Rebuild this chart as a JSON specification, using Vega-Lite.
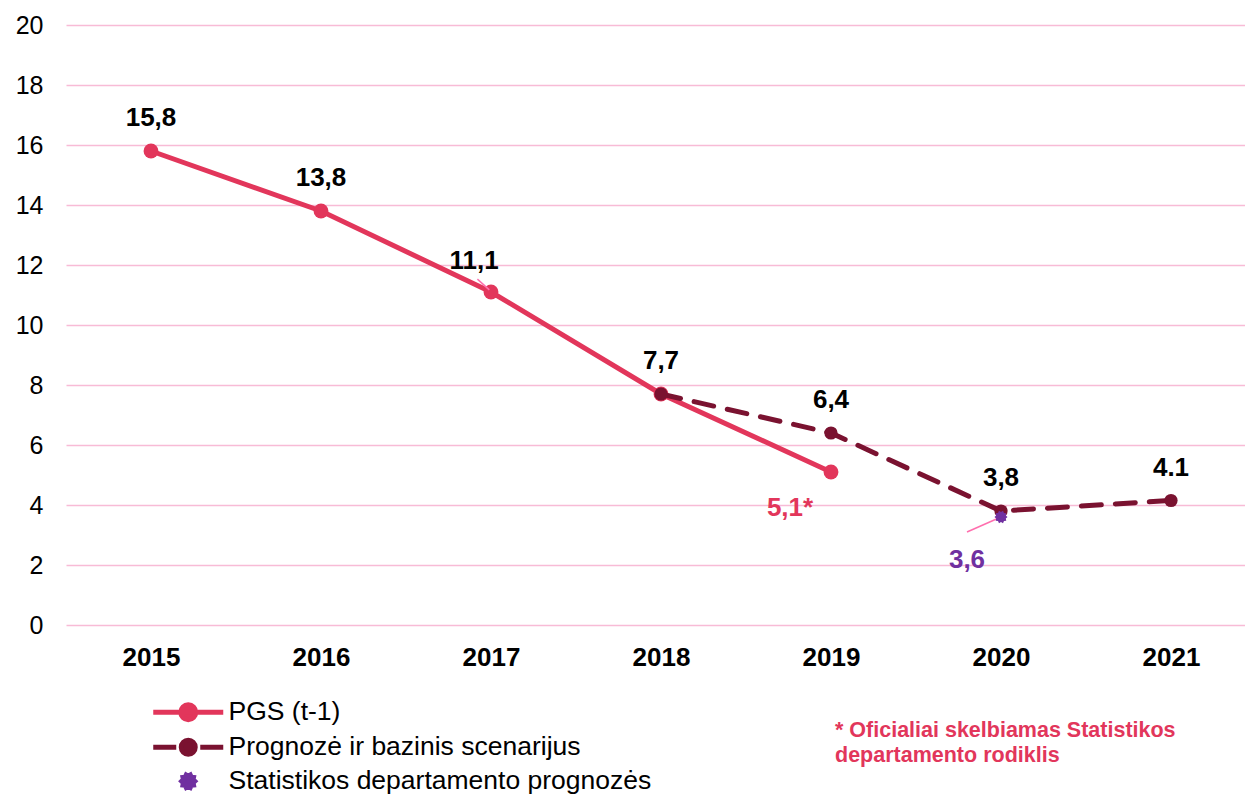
{
  "$schema": "https://vega.github.io/schema/vega-lite/v6.json",
  "autosize": "none",
  "width": 1190,
  "height": 600,
  "padding": {"left": 66, "top": 25, "right": 0, "bottom": 171},
  "background": "white",
  "config": {
    "font": "Liberation Sans",
    "view": {"stroke": null},
    "legend": {"padding": 0}
  },
  "title": {
    "text": ["* Oficialiai skelbiamas Statistikos", "departamento rodiklis"],
    "orient": "bottom",
    "anchor": "start",
    "frame": "group",
    "dx": 769,
    "offset": 0,
    "dy": -78,
    "font": "Liberation Sans",
    "fontSize": 21.5,
    "fontWeight": "bold",
    "color": "#E2365B",
    "lineHeight": 25
  },
  "datasets": {
    "rows": [
      {"series": "PGS (t-1)", "year": 2015, "value": 15.8, "label": "15,8"},
      {"series": "PGS (t-1)", "year": 2016, "value": 13.8, "label": "13,8"},
      {"series": "PGS (t-1)", "year": 2017, "value": 11.1, "label": "11,1"},
      {"series": "PGS (t-1)", "year": 2018, "value": 7.7, "label": "7,7"},
      {"series": "PGS (t-1)", "year": 2019, "value": 5.1, "label": "5,1*"},
      {"series": "Prognozė ir bazinis scenarijus", "year": 2018, "value": 7.7, "label": "7,7"},
      {"series": "Prognozė ir bazinis scenarijus", "year": 2019, "value": 6.4, "label": "6,4"},
      {"series": "Prognozė ir bazinis scenarijus", "year": 2020, "value": 3.8, "label": "3,8"},
      {"series": "Prognozė ir bazinis scenarijus", "year": 2021, "value": 4.15, "label": "4.1"},
      {"series": "Statistikos departamento prognozės", "year": 2020, "value": 3.6, "label": "3,6"}
    ],
    "leaders": [
      {"x": 2016.92, "y": 11.53, "x2": 2016.99, "y2": 11.17},
      {"x": 2019.80, "y": 3.1, "x2": 2020.0, "y2": 3.6}
    ]
  },
  "encoding": {
    "x": {
      "field": "year",
      "type": "quantitative",
      "scale": {"domain": [2014.5, 2021.5], "nice": false, "zero": false},
      "axis": {
        "title": null,
        "values": [2015, 2016, 2017, 2018, 2019, 2020, 2021],
        "format": "d",
        "grid": false,
        "ticks": false,
        "domain": false,
        "labelFontSize": 26,
        "labelFontWeight": "bold",
        "labelColor": "#000000",
        "labelPadding": 19
      }
    },
    "y": {
      "field": "value",
      "type": "quantitative",
      "scale": {"domain": [0, 20], "nice": false},
      "axis": {
        "title": null,
        "values": [0, 2, 4, 6, 8, 10, 12, 14, 16, 18, 20],
        "grid": true,
        "gridColor": "#F8BBD6",
        "gridWidth": 1.5,
        "ticks": false,
        "domain": false,
        "labelFontSize": 25,
        "labelColor": "#000000",
        "labelPadding": 23
      }
    }
  },
  "layer": [
    {
      "data": {"name": "rows"},
      "transform": [{"filter": "datum.series === 'PGS (t-1)'"}],
      "mark": {"type": "line", "strokeWidth": 5},
      "encoding": {
        "color": {
          "field": "series",
          "type": "nominal",
          "scale": {
            "domain": ["PGS (t-1)", "Prognozė ir bazinis scenarijus", "Statistikos departamento prognozės"],
            "range": ["#E2365B", "#7A1230", "#7030A0"]
          },
          "legend": {
            "title": null,
            "orient": "none",
            "legendX": 109,
            "legendY": 674,
            "direction": "vertical",
            "symbolSize": 400,
            "labelFontSize": 26.5,
            "labelColor": "#000000",
            "labelOffset": 27,
            "rowPadding": 0,
            "labelLimit": 600,
            "encode": {
              "symbols": {
                "update": {
                  "shape": {"signal": "datum.value === 'PGS (t-1)' ? 'M-3.5,0H3.5M0.75,0A0.75,0.75,0,1,1,-0.75,0A0.75,0.75,0,1,1,0.75,0Z' : datum.value === 'Prognozė ir bazinis scenarijus' ? 'M-3.5,0H-1.2M1.2,0H3.5M0.7,0A0.7,0.7,0,1,1,-0.7,0A0.7,0.7,0,1,1,0.7,0Z' : 'M0.65,0L0.482,0.157L0.526,0.382L0.298,0.41L0.201,0.618L0,0.507L-0.201,0.618L-0.298,0.41L-0.526,0.382L-0.482,0.157L-0.65,0L-0.482,-0.157L-0.526,-0.382L-0.298,-0.41L-0.201,-0.618L0,-0.507L0.201,-0.618L0.298,-0.41L0.526,-0.382L0.482,-0.157Z'"},
                  "fill": {"signal": "datum.value === 'PGS (t-1)' ? '#E2365B' : datum.value === 'Prognozė ir bazinis scenarijus' ? '#7A1230' : '#7030A0'"},
                  "stroke": {"signal": "datum.value === 'PGS (t-1)' ? '#E2365B' : datum.value === 'Prognozė ir bazinis scenarijus' ? '#7A1230' : 'transparent'"},
                  "strokeWidth": {"value": 5},
                  "strokeDash": {"value": []},
                  "opacity": {"value": 1},
                  "fillOpacity": {"value": 1}
                }
              }
            }
          }
        }
      }
    },
    {
      "data": {"name": "rows"},
      "transform": [{"filter": "datum.series === 'PGS (t-1)'"}],
      "mark": {"type": "point", "filled": true, "size": 220, "opacity": 1, "color": "#E2365B"},
      "encoding": {}
    },
    {
      "data": {"name": "rows"},
      "transform": [{"filter": "datum.series === 'Prognozė ir bazinis scenarijus'"}],
      "mark": {"type": "line", "strokeWidth": 5, "strokeDash": [20, 14], "strokeCap": "round"},
      "encoding": {
        "color": {"field": "series", "type": "nominal"}
      }
    },
    {
      "data": {"name": "rows"},
      "transform": [{"filter": "datum.series === 'Prognozė ir bazinis scenarijus'"}],
      "mark": {"type": "point", "filled": true, "size": 175, "opacity": 1, "color": "#7A1230"},
      "encoding": {}
    },
    {
      "data": {"name": "leaders"},
      "mark": {"type": "rule", "color": "#FF6FAE", "strokeWidth": 1.5},
      "encoding": {
        "x": {"field": "x", "type": "quantitative"},
        "y": {"field": "y", "type": "quantitative"},
        "x2": {"field": "x2"},
        "y2": {"field": "y2"}
      }
    },
    {
      "data": {"name": "rows"},
      "transform": [{"filter": "datum.series === 'Statistikos departamento prognozės'"}],
      "mark": {
        "type": "point",
        "filled": true,
        "size": 169,
        "opacity": 1,
        "color": "#7030A0",
        "shape": "M1,0L0.742,0.241L0.809,0.588L0.459,0.631L0.309,0.951L0,0.78L-0.309,0.951L-0.459,0.631L-0.809,0.588L-0.742,0.241L-1,0L-0.742,-0.241L-0.809,-0.588L-0.459,-0.631L-0.309,-0.951L0,-0.78L0.309,-0.951L0.459,-0.631L0.809,-0.588L0.742,-0.241Z"
      },
      "encoding": {
        "color": {"field": "series", "type": "nominal"}
      }
    },
    {
      "data": {"name": "rows"},
      "transform": [{"filter": "(datum.series === 'PGS (t-1)' && datum.year <= 2018 && datum.year !== 2017) || (datum.series === 'Prognozė ir bazinis scenarijus' && datum.year >= 2019)"}],
      "mark": {"type": "text", "fontSize": 26, "fontWeight": "bold", "color": "#000000", "dy": -33, "baseline": "middle", "align": "center"},
      "encoding": {"text": {"field": "label"}}
    },
    {
      "data": {"name": "rows"},
      "transform": [{"filter": "datum.series === 'PGS (t-1)' && datum.year === 2017"}],
      "mark": {"type": "text", "fontSize": 26, "fontWeight": "bold", "color": "#000000", "dx": -17, "dy": -31, "baseline": "middle", "align": "center"},
      "encoding": {"text": {"field": "label"}}
    },
    {
      "data": {"name": "rows"},
      "transform": [{"filter": "datum.series === 'PGS (t-1)' && datum.year === 2019"}],
      "mark": {"type": "text", "fontSize": 26, "fontWeight": "bold", "color": "#E2365B", "dx": -41, "dy": 36, "baseline": "middle", "align": "center"},
      "encoding": {"text": {"field": "label"}}
    },
    {
      "data": {"name": "rows"},
      "transform": [{"filter": "datum.series === 'Statistikos departamento prognozės'"}],
      "mark": {"type": "text", "fontSize": 26, "fontWeight": "bold", "color": "#7030A0", "dx": -34, "dy": 43, "baseline": "middle", "align": "center"},
      "encoding": {"text": {"field": "label"}}
    }
  ]
}
